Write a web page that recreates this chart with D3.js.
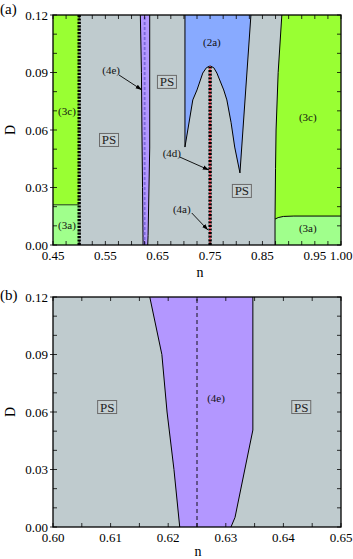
<!DOCTYPE html>
<html><head><meta charset="utf-8">
<script src="https://cdn.jsdelivr.net/npm/d3@7"></script>
<style>body{margin:0;background:#fff}svg{display:block}text{font-family:"Liberation Serif","Times New Roman",Times,serif}</style>
</head><body>
<script>
// ---- data ----
const nTicksA = [0.45, 0.55, 0.65, 0.75, 0.85, 0.95, 1.00];
const nTicksB = [0.60, 0.61, 0.62, 0.63, 0.64, 0.65];
const dTicks = [0.00, 0.03, 0.06, 0.09, 0.12];
// region boundaries [n, D]
const region3aLeft = [[0.45,0],[0.50,0],[0.50,0.021],[0.45,0.021]];
const region3cLeft = [[0.45,0.021],[0.50,0.021],[0.50,0.12],[0.45,0.12]];
const region4eLeftEdge = [[0.6168,0.12],[0.6189,0.09],[0.6198,0.06],[0.6210,0.03],[0.6220,0]];
const region4eRightEdge = [[0.6309,0],[0.6316,0.005],[0.6347,0.0506],[0.6347,0.12]];
const region2aCurve = [[0.702,0.12],[0.702,0.0511],[0.717,0.0757],[0.725,0.0809],[0.736,0.0897],[0.743,0.0925],[0.750,0.0934],[0.757,0.0925],[0.763,0.0897],[0.776,0.0809],[0.782,0.0757],[0.790,0.064],[0.797,0.0511],[0.807,0.0376],[0.828,0.12]];
const region3cRightEdge = [[0.887,0.12],[0.880,0.09],[0.876,0.06],[0.875,0.04],[0.874,0.0135]];
const region3aRightTop = [[0.874,0.0135],[0.880,0.0143],[0.890,0.0149],[0.910,0.0151],[1.00,0.0151]];
const dotted050 = [[0.50,0],[0.50,0.12]];
const dotted075 = [[0.75,0],[0.75,0.0934]];
const dashed4e = 0.625;
const labelsA = [
  {t:"(3c)", n:0.4767, d:0.0694}, {t:"(3a)", n:0.4767, d:0.0104},
  {t:"PS", n:0.557, d:0.0548, box:true}, {t:"(4e)", n:0.561, d:0.0908},
  {t:"PS", n:0.6676, d:0.0851, box:true}, {t:"(2a)", n:0.7534, d:0.1054},
  {t:"(4d)", n:0.677, d:0.0475}, {t:"(4a)", n:0.696, d:0.0183},
  {t:"PS", n:0.8107, d:0.0282, box:true}, {t:"(3c)", n:0.9366, d:0.0663},
  {t:"(3a)", n:0.9366, d:0.0084}
];
const arrowsA = [
  {from:[0.576,0.0887], to:[0.6198,0.0809]},
  {from:[0.692,0.0459], to:[0.748,0.0391]},
  {from:[0.715,0.0167], to:[0.746,0.0078]}
];
const labelsB = [
  {t:"(4e)", n:0.6283, d:0.0673}, {t:"PS", n:0.6094, d:0.0626, box:true},
  {t:"PS", n:0.6431, d:0.0626, box:true}
];

const C = {gray:"#bfcbce", green:"#99ff33", lgreen:"#a0ff8c", blue:"#88aaff", purple:"#b397ff"};

const W = 353, H = 559;
const svg = d3.select("body").append("svg").attr("width", W).attr("height", H);
const defs = svg.append("defs");
defs.append("marker").attr("id","arr").attr("viewBox","0 0 10 10").attr("refX",10).attr("refY",5)
  .attr("markerWidth",7).attr("markerHeight",7).attr("orient","auto")
  .append("path").attr("d","M0,1.5 L10,5 L0,8.5 Z").attr("fill","#000");

const left = 53, right = 341;
const panelA = {top:15, bottom:245, domain:[0.45,1.00], ticks:nTicksA, minor:d3.range(0.45,1.0001,0.025)};
const panelB = {top:297, bottom:527, domain:[0.60,0.65], ticks:nTicksB, minor:d3.range(0.60,0.6501,0.005)};

function drawPanel(P, id) {
  const x = d3.scaleLinear().domain(P.domain).range([left,right]);
  const y = d3.scaleLinear().domain([0,0.12]).range([P.bottom,P.top]);
  const g = svg.append("g");
  defs.append("clipPath").attr("id","clip"+id).append("rect")
    .attr("x",left).attr("y",P.top).attr("width",right-left).attr("height",P.bottom-P.top);
  const pg = g.append("g").attr("clip-path","url(#clip"+id+")");
  const line = d3.line().x(d=>x(d[0])).y(d=>y(d[1]));
  pg.append("rect").attr("x",left).attr("y",P.top).attr("width",right-left).attr("height",P.bottom-P.top).attr("fill",C.gray);
  return {x,y,g,pg,line};
}

function axes(P, o, fmtX) {
  const {x,y,g} = o;
  const minorY = d3.range(0,0.1201,0.01);
  P.minor.forEach(v=>{
    g.append("line").attr("x1",x(v)).attr("x2",x(v)).attr("y1",P.bottom).attr("y2",P.bottom-4).attr("stroke","#000").attr("stroke-width",0.8);
    g.append("line").attr("x1",x(v)).attr("x2",x(v)).attr("y1",P.top).attr("y2",P.top+4).attr("stroke","#000").attr("stroke-width",0.8);
  });
  minorY.forEach(v=>{
    g.append("line").attr("x1",left).attr("x2",left+4).attr("y1",y(v)).attr("y2",y(v)).attr("stroke","#000").attr("stroke-width",0.8);
    g.append("line").attr("x1",right).attr("x2",right-4).attr("y1",y(v)).attr("y2",y(v)).attr("stroke","#000").attr("stroke-width",0.8);
  });
  dTicks.forEach(v=>{
    g.append("line").attr("x1",left).attr("x2",left-3).attr("y1",y(v)).attr("y2",y(v)).attr("stroke","#000").attr("stroke-width",0.8);
  });
  g.append("rect").attr("x",left).attr("y",P.top).attr("width",right-left).attr("height",P.bottom-P.top)
    .attr("fill","none").attr("stroke","#000").attr("stroke-width",1.3);
  P.ticks.forEach(v=>{
    g.append("text").attr("x",x(v)).attr("y",P.bottom+15).attr("text-anchor","middle").attr("font-size",13).text(fmtX(v));
  });
  dTicks.forEach(v=>{
    g.append("text").attr("x",left-5).attr("y",y(v)+4.5).attr("text-anchor","end").attr("font-size",13).text(v.toFixed(2));
  });
}

function labels(o, arr) {
  const {x,y,g} = o;
  arr.forEach(l=>{
    if (l.box) {
      g.append("rect").attr("x",x(l.n)-9.5).attr("y",y(l.d)-6.5).attr("width",19).attr("height",13)
        .attr("fill","#c6d0d2").attr("stroke","#6a6a6a").attr("stroke-width",1);
      g.append("text").attr("x",x(l.n)).attr("y",y(l.d)+4.5).attr("text-anchor","middle").attr("font-size",13).attr("fill","#222").text(l.t);
    } else {
      g.append("text").attr("x",x(l.n)).attr("y",y(l.d)+3.5).attr("text-anchor","middle").attr("font-size",11).attr("fill","#111").text(l.t);
    }
  });
}

function region4e(o) {
  const poly = region4eLeftEdge.slice().concat(region4eRightEdge);
  o.pg.append("path").attr("d", o.line(poly)+"Z").attr("fill",C.purple);
  o.pg.append("path").attr("d", o.line(region4eLeftEdge)).attr("fill","none").attr("stroke","#000").attr("stroke-width",1);
  o.pg.append("path").attr("d", o.line(region4eRightEdge)).attr("fill","none").attr("stroke","#000").attr("stroke-width",1);
}

// ---- Panel (a) ----
const A = drawPanel(panelA, "a");
A.pg.append("path").attr("d", A.line(region3cLeft)+"Z").attr("fill",C.green);
A.pg.append("path").attr("d", A.line(region3aLeft)+"Z").attr("fill",C.lgreen);
A.pg.append("line").attr("x1",A.x(0.45)).attr("x2",A.x(0.50)).attr("y1",A.y(0.021)).attr("y2",A.y(0.021)).attr("stroke","#3f6a28").attr("stroke-width",1.3);
region4e(A);
A.pg.append("line").attr("x1",A.x(dashed4e)).attr("x2",A.x(dashed4e)).attr("y1",A.y(0)).attr("y2",A.y(0.12))
  .attr("stroke","#7a68d8").attr("stroke-width",1.8).attr("stroke-dasharray","3,2");
A.pg.append("path").attr("d", A.line(region2aCurve)+"Z").attr("fill",C.blue);
A.pg.append("path").attr("d", A.line(region2aCurve)).attr("fill","none").attr("stroke","#000").attr("stroke-width",1);
const r3c = region3cRightEdge.concat(region3aRightTop.slice(1)).concat([[1.0,0.12]]);
A.pg.append("path").attr("d", A.line(r3c)+"Z").attr("fill",C.green);
const r3a = [[0.874,0]].concat(region3aRightTop).concat([[1.0,0]]);
A.pg.append("path").attr("d", A.line(r3a)+"Z").attr("fill",C.lgreen);
A.pg.append("path").attr("d", A.line(region3cRightEdge.concat([[0.874,0]]))).attr("fill","none").attr("stroke","#000").attr("stroke-width",1);
A.pg.append("path").attr("d", A.line(region3aRightTop)).attr("fill","none").attr("stroke","#000").attr("stroke-width",1);
// dotted lines
A.pg.append("path").attr("d", A.line(dotted050)).attr("stroke","#000").attr("stroke-width",3.4).attr("stroke-dasharray","2.2,1.2");
A.pg.append("path").attr("d", A.line(dotted075)).attr("stroke","#000").attr("stroke-width",3.4).attr("stroke-dasharray","2.2,1.4");
A.pg.append("path").attr("d", A.line(dotted075)).attr("stroke","#ff2a3a").attr("stroke-width",2).attr("stroke-dasharray","1.4,2.2").attr("stroke-dashoffset",-2.2);
A.pg.append("path").attr("d", A.line(dotted075)).attr("stroke","#ffb0c0").attr("stroke-width",0.6).attr("stroke-dasharray","1.4,2.2").attr("stroke-dashoffset",-2.2);
axes(panelA, A, v=>v.toFixed(2));
labels(A, labelsA);
arrowsA.forEach(a=>{
  A.g.append("line").attr("x1",A.x(a.from[0])).attr("y1",A.y(a.from[1])).attr("x2",A.x(a.to[0])).attr("y2",A.y(a.to[1]))
    .attr("stroke","#000").attr("stroke-width",0.9).attr("marker-end","url(#arr)");
});

// ---- Panel (b) ----
const B = drawPanel(panelB, "b");
region4e(B);
B.pg.append("line").attr("x1",B.x(dashed4e)).attr("x2",B.x(dashed4e)).attr("y1",B.y(0)).attr("y2",B.y(0.12))
  .attr("stroke","#000").attr("stroke-width",0.9).attr("stroke-dasharray","4,3");
axes(panelB, B, v=>v.toFixed(2));
labels(B, labelsB);

// titles
svg.append("text").attr("x",0).attr("y",14).attr("font-size",15).text("(a)");
svg.append("text").attr("x",0).attr("y",300).attr("font-size",15).text("(b)");
svg.append("text").attr("x",200).attr("y",277).attr("text-anchor","middle").attr("font-size",14).text("n");
svg.append("text").attr("x",198).attr("y",556).attr("text-anchor","middle").attr("font-size",14).text("n");
svg.append("text").attr("transform","translate(15,130) rotate(-90)").attr("text-anchor","middle").attr("font-size",14).text("D");
svg.append("text").attr("transform","translate(15,412) rotate(-90)").attr("text-anchor","middle").attr("font-size",14).text("D");
</script>
</body></html>
